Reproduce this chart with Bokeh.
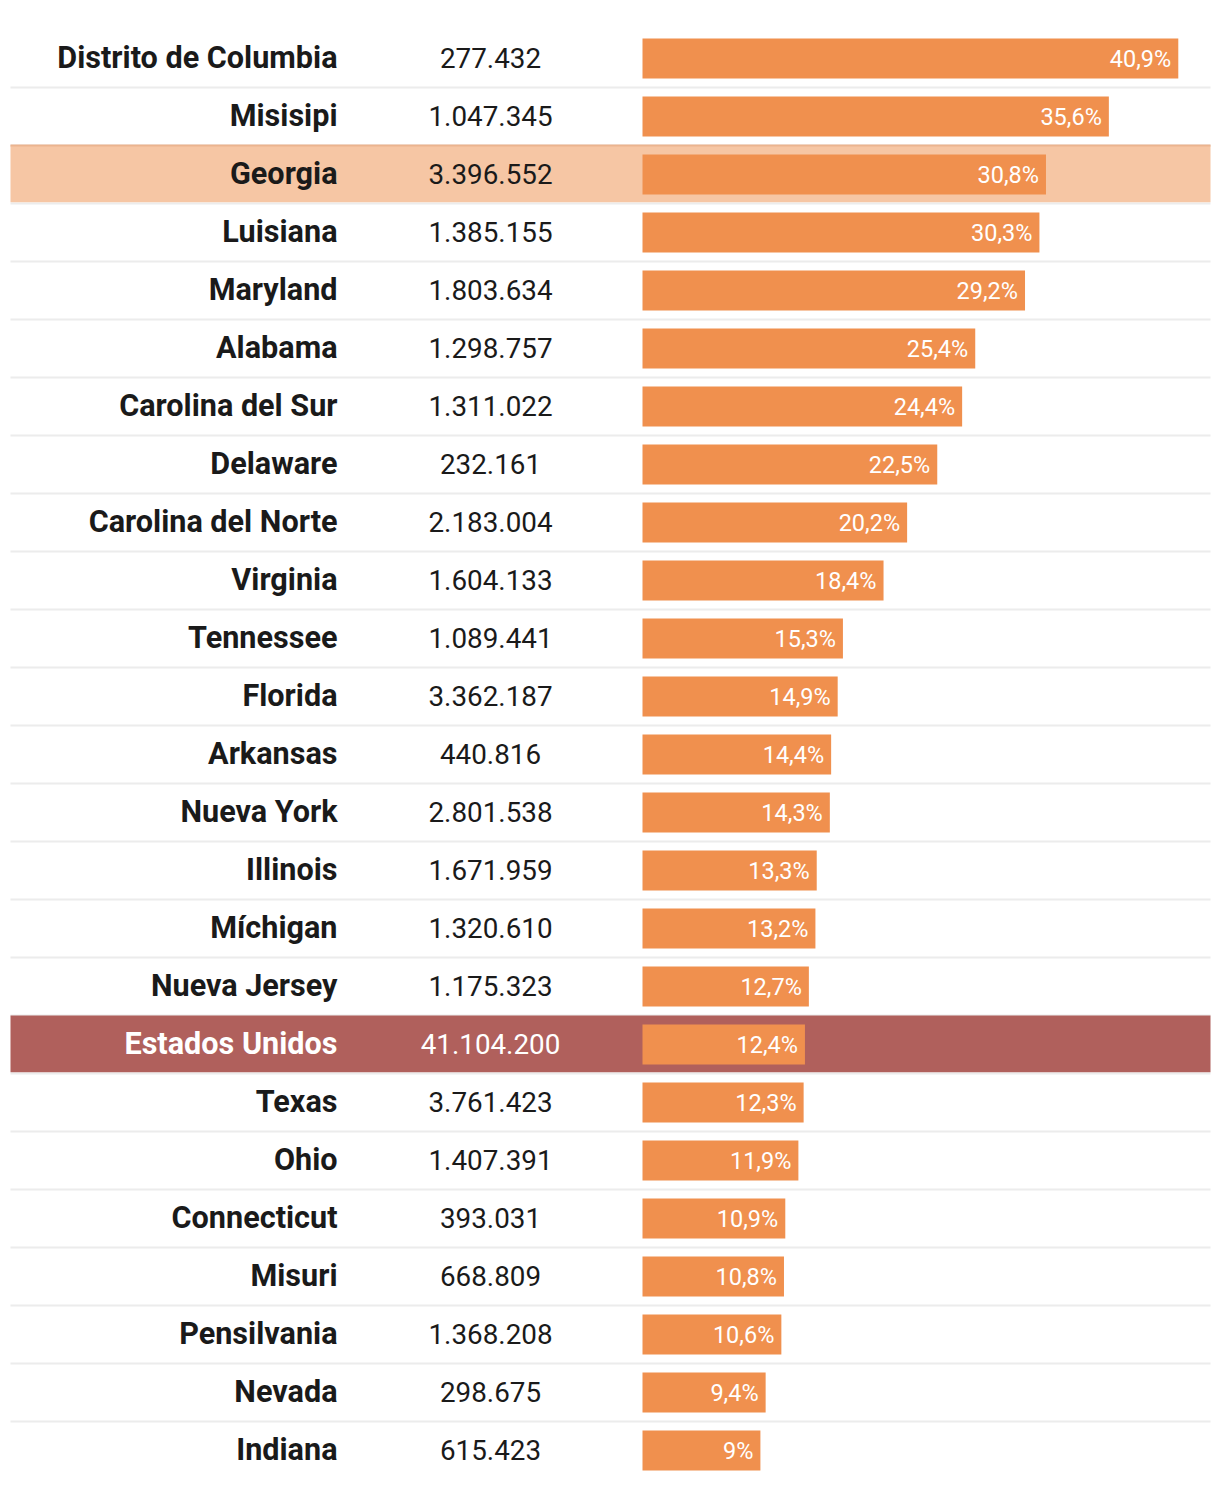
from bokeh.plotting import figure
from bokeh.models import ColumnDataSource, Range1d
from bokeh.core.properties import value
from bokeh.embed import file_html
from bokeh.resources import INLINE

states = ["Distrito de Columbia", "Misisipi", "Georgia", "Luisiana", "Maryland", "Alabama",
          "Carolina del Sur", "Delaware", "Carolina del Norte", "Virginia", "Tennessee", "Florida",
          "Arkansas", "Nueva York", "Illinois", "Míchigan", "Nueva Jersey", "Estados Unidos",
          "Texas", "Ohio", "Connecticut", "Misuri", "Pensilvania", "Nevada", "Indiana"]
population = [277432, 1047345, 3396552, 1385155, 1803634, 1298757, 1311022, 232161, 2183004,
              1604133, 1089441, 3362187, 440816, 2801538, 1671959, 1320610, 1175323, 41104200,
              3761423, 1407391, 393031, 668809, 1368208, 298675, 615423]
pct = [40.9, 35.6, 30.8, 30.3, 29.2, 25.4, 24.4, 22.5, 20.2, 18.4, 15.3, 14.9, 14.4, 14.3,
       13.3, 13.2, 12.7, 12.4, 12.3, 11.9, 10.9, 10.8, 10.6, 9.4, 9.0]
highlight_state = "Georgia"
national_row = "Estados Unidos"

BAR = "#f0904e"
HL = "#f6c6a4"
NAT = "#b0605c"
DARK = "#1a1a1a"

W, H = 1216, 1484
ROW = 58.0
PXU = 13.1          # pixels per percentage point
BAR_X0 = 642        # pixel of bar start within figure
ROW0_Y = 58         # pixel of first row centre

n = len(states)
ys = list(range(n))

def fmt_pop(v):
    return f"{v:,}".replace(",", ".")

def fmt_pct(v):
    s = f"{v:.1f}".replace(".", ",")
    if s.endswith(",0"):
        s = s[:-2]
    return s + "%"

x_lo = -BAR_X0 / PXU
x_hi = (W - BAR_X0) / PXU
y_end = -ROW0_Y / ROW
y_start = y_end + H / ROW

p = figure(width=W, height=H, output_backend="svg", toolbar_location=None,
           x_range=Range1d(x_lo, x_hi), y_range=Range1d(y_start, y_end),
           min_border=0, min_border_left=0, min_border_right=0,
           min_border_top=0, min_border_bottom=0)
p.axis.visible = False
p.grid.visible = False
p.outline_line_color = None
p.background_fill_color = "white"
p.border_fill_color = "white"

x_left = (10 - BAR_X0) / PXU
x_right = (1210 - BAR_X0) / PXU

# separators
sep_y = [i + 0.5 for i in range(n - 1)]
p.segment(x0=[x_left] * len(sep_y), x1=[x_right] * len(sep_y), y0=sep_y, y1=sep_y,
          line_color="#ececec", line_width=2)

# highlighted rows
hl_rows = [i for i, s in enumerate(states) if s == highlight_state]
nat_rows = [i for i, s in enumerate(states) if s == national_row]
p.quad(left=[x_left] * len(hl_rows), right=[x_right] * len(hl_rows),
       top=[i - 0.5 for i in hl_rows], bottom=[i + 0.5 - 0.02 for i in hl_rows],
       fill_color=HL, line_color=None)
p.segment(x0=[x_left] * len(hl_rows), x1=[x_right] * len(hl_rows),
          y0=[i - 0.5 for i in hl_rows], y1=[i - 0.5 for i in hl_rows],
          line_color="#ebb48f", line_width=2)
p.quad(left=[x_left] * len(nat_rows), right=[x_right] * len(nat_rows),
       top=[i - 0.5 for i in nat_rows], bottom=[i + 0.5 - 0.02 for i in nat_rows],
       fill_color=NAT, line_color=None)

src = ColumnDataSource(dict(
    y=ys, state=states, pop=[fmt_pop(v) for v in population], pct=pct,
    pct_label=[fmt_pct(v) for v in pct],
    text_color=["white" if s == national_row else DARK for s in states],
))

p.hbar(y="y", left=0, right="pct", height=0.69, source=src, fill_color=BAR, line_color=None)

name_x = (337 - BAR_X0) / PXU
num_x = (490 - BAR_X0) / PXU

p.text(x=name_x, y="y", text="state", source=src, text_align="right", text_baseline="middle",
       y_offset=-1,
       text_font=value("Roboto"), text_font_style="bold", text_font_size="30.6px",
       text_color="text_color")
p.text(x=num_x, y="y", text="pop", source=src, text_align="center", text_baseline="middle",
       y_offset=-1,
       text_font=value("Roboto"), text_font_size="27.8px", text_color="text_color")
p.text(x="pct", y="y", text="pct_label", source=src, text_align="right", text_baseline="middle",
       x_offset=-7, text_font=value("Roboto"), text_font_size="23.5px", text_color="white")

open("out.html", "w").write(file_html(p, INLINE))
